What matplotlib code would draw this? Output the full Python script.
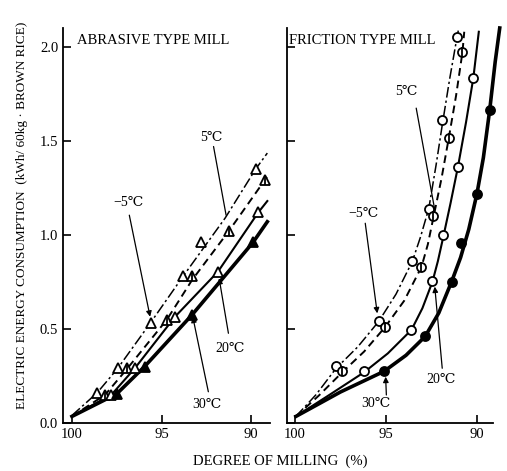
import numpy as np
import matplotlib
matplotlib.use("Agg")
import matplotlib.pyplot as plt

plt.rcParams['font.family'] = ['Liberation Serif', 'DejaVu Serif', 'DejaVu Sans']

temps = ['-5', '5', '20', '30']

# ABRASIVE TYPE MILL - measured points (degree of milling %, kWh/60kg)
abr_x = {'-5': [98.6, 97.45, 95.6, 93.8, 92.8, 89.75],
         '5':  [98.15, 96.95, 94.7, 93.3, 91.25, 89.25],
         '20': [97.8, 96.5, 94.25, 91.85, 89.6],
         '30': [97.5, 95.95, 93.3, 89.9]}
abr_y = {'-5': [0.16, 0.29, 0.53, 0.78, 0.96, 1.35],
         '5':  [0.15, 0.29, 0.55, 0.78, 1.02, 1.29],
         '20': [0.15, 0.29, 0.565, 0.805, 1.12],
         '30': [0.155, 0.30, 0.575, 0.96]}
# curves as drawn on the chart
abr_cx = {'-5': [100.0, 98.6, 97.45, 95.6, 93.8, 91.45, 89.75, 89.1],
          '5':  [100.0, 98.15, 96.95, 94.7, 93.3, 91.25, 89.25, 89.1],
          '20': [100.0, 97.8, 96.5, 94.25, 91.85, 89.6, 89.1],
          '30': [100.0, 97.5, 95.95, 93.3, 89.9, 89.1]}
abr_cy = {'-5': [0.04, 0.16, 0.29, 0.535, 0.78, 1.09, 1.35, 1.435],
          '5':  [0.035, 0.15, 0.285, 0.55, 0.76, 1.02, 1.29, 1.31],
          '20': [0.035, 0.15, 0.29, 0.565, 0.805, 1.12, 1.18],
          '30': [0.035, 0.155, 0.30, 0.575, 0.96, 1.07]}

# FRICTION TYPE MILL
fri_x = {'-5': [97.75, 95.4, 93.55, 92.65, 91.9, 91.1],
         '5':  [97.4, 95.05, 93.05, 92.4, 91.55, 90.8],
         '20': [96.2, 93.6, 92.45, 91.85, 91.05, 90.2],
         '30': [95.1, 92.85, 91.4, 90.9, 90.0, 89.3]}
fri_y = {'-5': [0.305, 0.54, 0.86, 1.14, 1.61, 2.05],
         '5':  [0.275, 0.51, 0.83, 1.10, 1.515, 1.97],
         '20': [0.275, 0.495, 0.755, 1.0, 1.36, 1.835],
         '30': [0.275, 0.465, 0.75, 0.955, 1.22, 1.665]}
fri_cx = {'-5': [99.95, 98.85, 97.75, 96.55, 95.4, 94.45, 93.55, 93.1, 92.65,
                 92.25, 91.9, 91.5, 91.1, 91.0],
          '5':  [99.95, 98.7, 97.4, 96.2, 95.05, 94.0, 93.05, 92.7, 92.4,
                 91.95, 91.55, 91.15, 90.8, 90.7],
          '20': [99.95, 98.1, 96.2, 94.9, 93.6, 93.0, 92.45, 92.15, 91.85,
                 91.45, 91.05, 90.6, 90.2, 89.9],
          '30': [99.95, 97.5, 95.1, 93.9, 92.85, 92.1, 91.4, 90.9, 90.45,
                 90.0, 89.65, 89.3, 89.0, 88.75]}
fri_cy = {'-5': [0.035, 0.15, 0.29, 0.405, 0.54, 0.685, 0.86, 0.99, 1.14,
                 1.37, 1.59, 1.83, 2.05, 2.1],
          '5':  [0.035, 0.145, 0.27, 0.38, 0.51, 0.65, 0.83, 0.95, 1.09,
                 1.30, 1.515, 1.74, 1.97, 2.08],
          '20': [0.035, 0.15, 0.27, 0.37, 0.495, 0.61, 0.75, 0.86, 0.99,
                 1.17, 1.36, 1.6, 1.835, 2.08],
          '30': [0.035, 0.165, 0.275, 0.36, 0.46, 0.585, 0.75, 0.88, 1.03,
                 1.22, 1.41, 1.665, 1.92, 2.1]}

yticks = [0.0, 0.5, 1.0, 1.5, 2.0]
xticks = [100, 95, 90]

lstyle = {'-5': (0, (7, 2, 1.5, 2)), '5': (0, (4, 2.5)), '20': '-', '30': '-'}
lwidth = {'-5': 1.1, '5': 1.4, '20': 1.5, '30': 2.6}
mfill = {'-5': 'white', '5': 'white', '20': 'white', '30': 'black'}

W, H = 507, 471
fig = plt.figure(figsize=(W / 100, H / 100), dpi=100)
axL = fig.add_axes([63 / W, 1 - 423 / H, 207 / W, 395 / H])
axR = fig.add_axes([287 / W, 1 - 423 / H, 206 / W, 395 / H])


def draw(ax, px, py, cx, cy, mk, ms):
    for t in temps:
        ax.plot(cx[t], cy[t], color='k', ls=lstyle[t], lw=lwidth[t],
                clip_on=False, zorder=2, solid_joinstyle='round')
        ax.plot(px[t], py[t], ls='none', marker=mk, ms=ms, mfc=mfill[t],
                mec='k', mew=1.3, clip_on=False, zorder=3)
        if t == '5':
            ax.plot(px[t], py[t], ls='none', marker='|', ms=ms, mec='k',
                    mew=1.3, clip_on=False, zorder=4)


draw(axL, abr_x, abr_y, abr_cx, abr_cy, '^', 7.5)
draw(axR, fri_x, fri_y, fri_cx, fri_cy, 'o', 6.5)

axL.set_xlim(100.5, 88.95)
axR.set_xlim(100.44, 89.12)
for ax in (axL, axR):
    ax.set_ylim(0, 2.1)
    ax.spines['top'].set_visible(False)
    ax.spines['right'].set_visible(False)
    ax.spines['left'].set_linewidth(1.3)
    ax.spines['bottom'].set_linewidth(1.3)
    ax.set_xticks(xticks)
    ax.set_xticklabels([str(v) for v in xticks])
    ax.set_yticks(yticks)
    ax.tick_params(direction='in', length=6, width=1.2, labelsize=10.5)
axL.set_yticklabels(['%.1f' % v for v in yticks])
axR.set_yticklabels([])

axL.text(0.07, 0.985, 'ABRASIVE TYPE MILL', transform=axL.transAxes,
         fontsize=10.5, va='top')
axR.text(0.01, 0.985, 'FRICTION TYPE MILL', transform=axR.transAxes,
         fontsize=10.5, va='top')

arrow = dict(arrowstyle='-|>', color='k', lw=0.9, mutation_scale=8,
             shrinkA=0, shrinkB=0)
plain = dict(arrowstyle='-', color='k', lw=0.9, shrinkA=0, shrinkB=0)

# (text, text pos, line start, line end, arrow?)
notesL = [('\u22125\u2103', (96.85, 1.17), (96.8, 1.105), (95.64, 0.565), True),
          ('5\u2103', (92.23, 1.52), (92.1, 1.47), (91.4, 1.105), False),
          ('20\u2103', (91.17, 0.397), (91.27, 0.477), (91.79, 0.77), True),
          ('30\u2103', (92.47, 0.096), (92.39, 0.166), (93.26, 0.565), True)]
notesR = [('\u22125\u2103', (96.26, 1.115), (96.14, 1.062), (95.48, 0.583), True),
          ('5\u2103', (93.9, 1.762), (93.34, 1.674), (92.32, 1.133), False),
          ('20\u2103', (91.96, 0.229), (91.91, 0.291), (92.32, 0.725), True),
          ('30\u2103', (95.53, 0.105), (94.98, 0.149), (95.02, 0.246), True)]
for ax, notes in ((axL, notesL), (axR, notesR)):
    for txt, tp, p0, p1, has_arrow in notes:
        ax.text(tp[0], tp[1], txt, ha='center', va='center', fontsize=10)
        ax.annotate('', xy=p1, xytext=p0,
                    arrowprops=arrow if has_arrow else plain)

fig.text(22 / W, 1 - 215 / H,
         'ELECTRIC ENERGY CONSUMPTION  (kWh/ 60kg \u00b7 BROWN RICE)',
         rotation=90, ha='center', va='center', fontsize=9.5)
fig.text(280 / W, 1 - 461 / H, 'DEGREE OF MILLING  (%)',
         ha='center', va='center', fontsize=10.5)

fig.savefig('out.png', dpi=100)
